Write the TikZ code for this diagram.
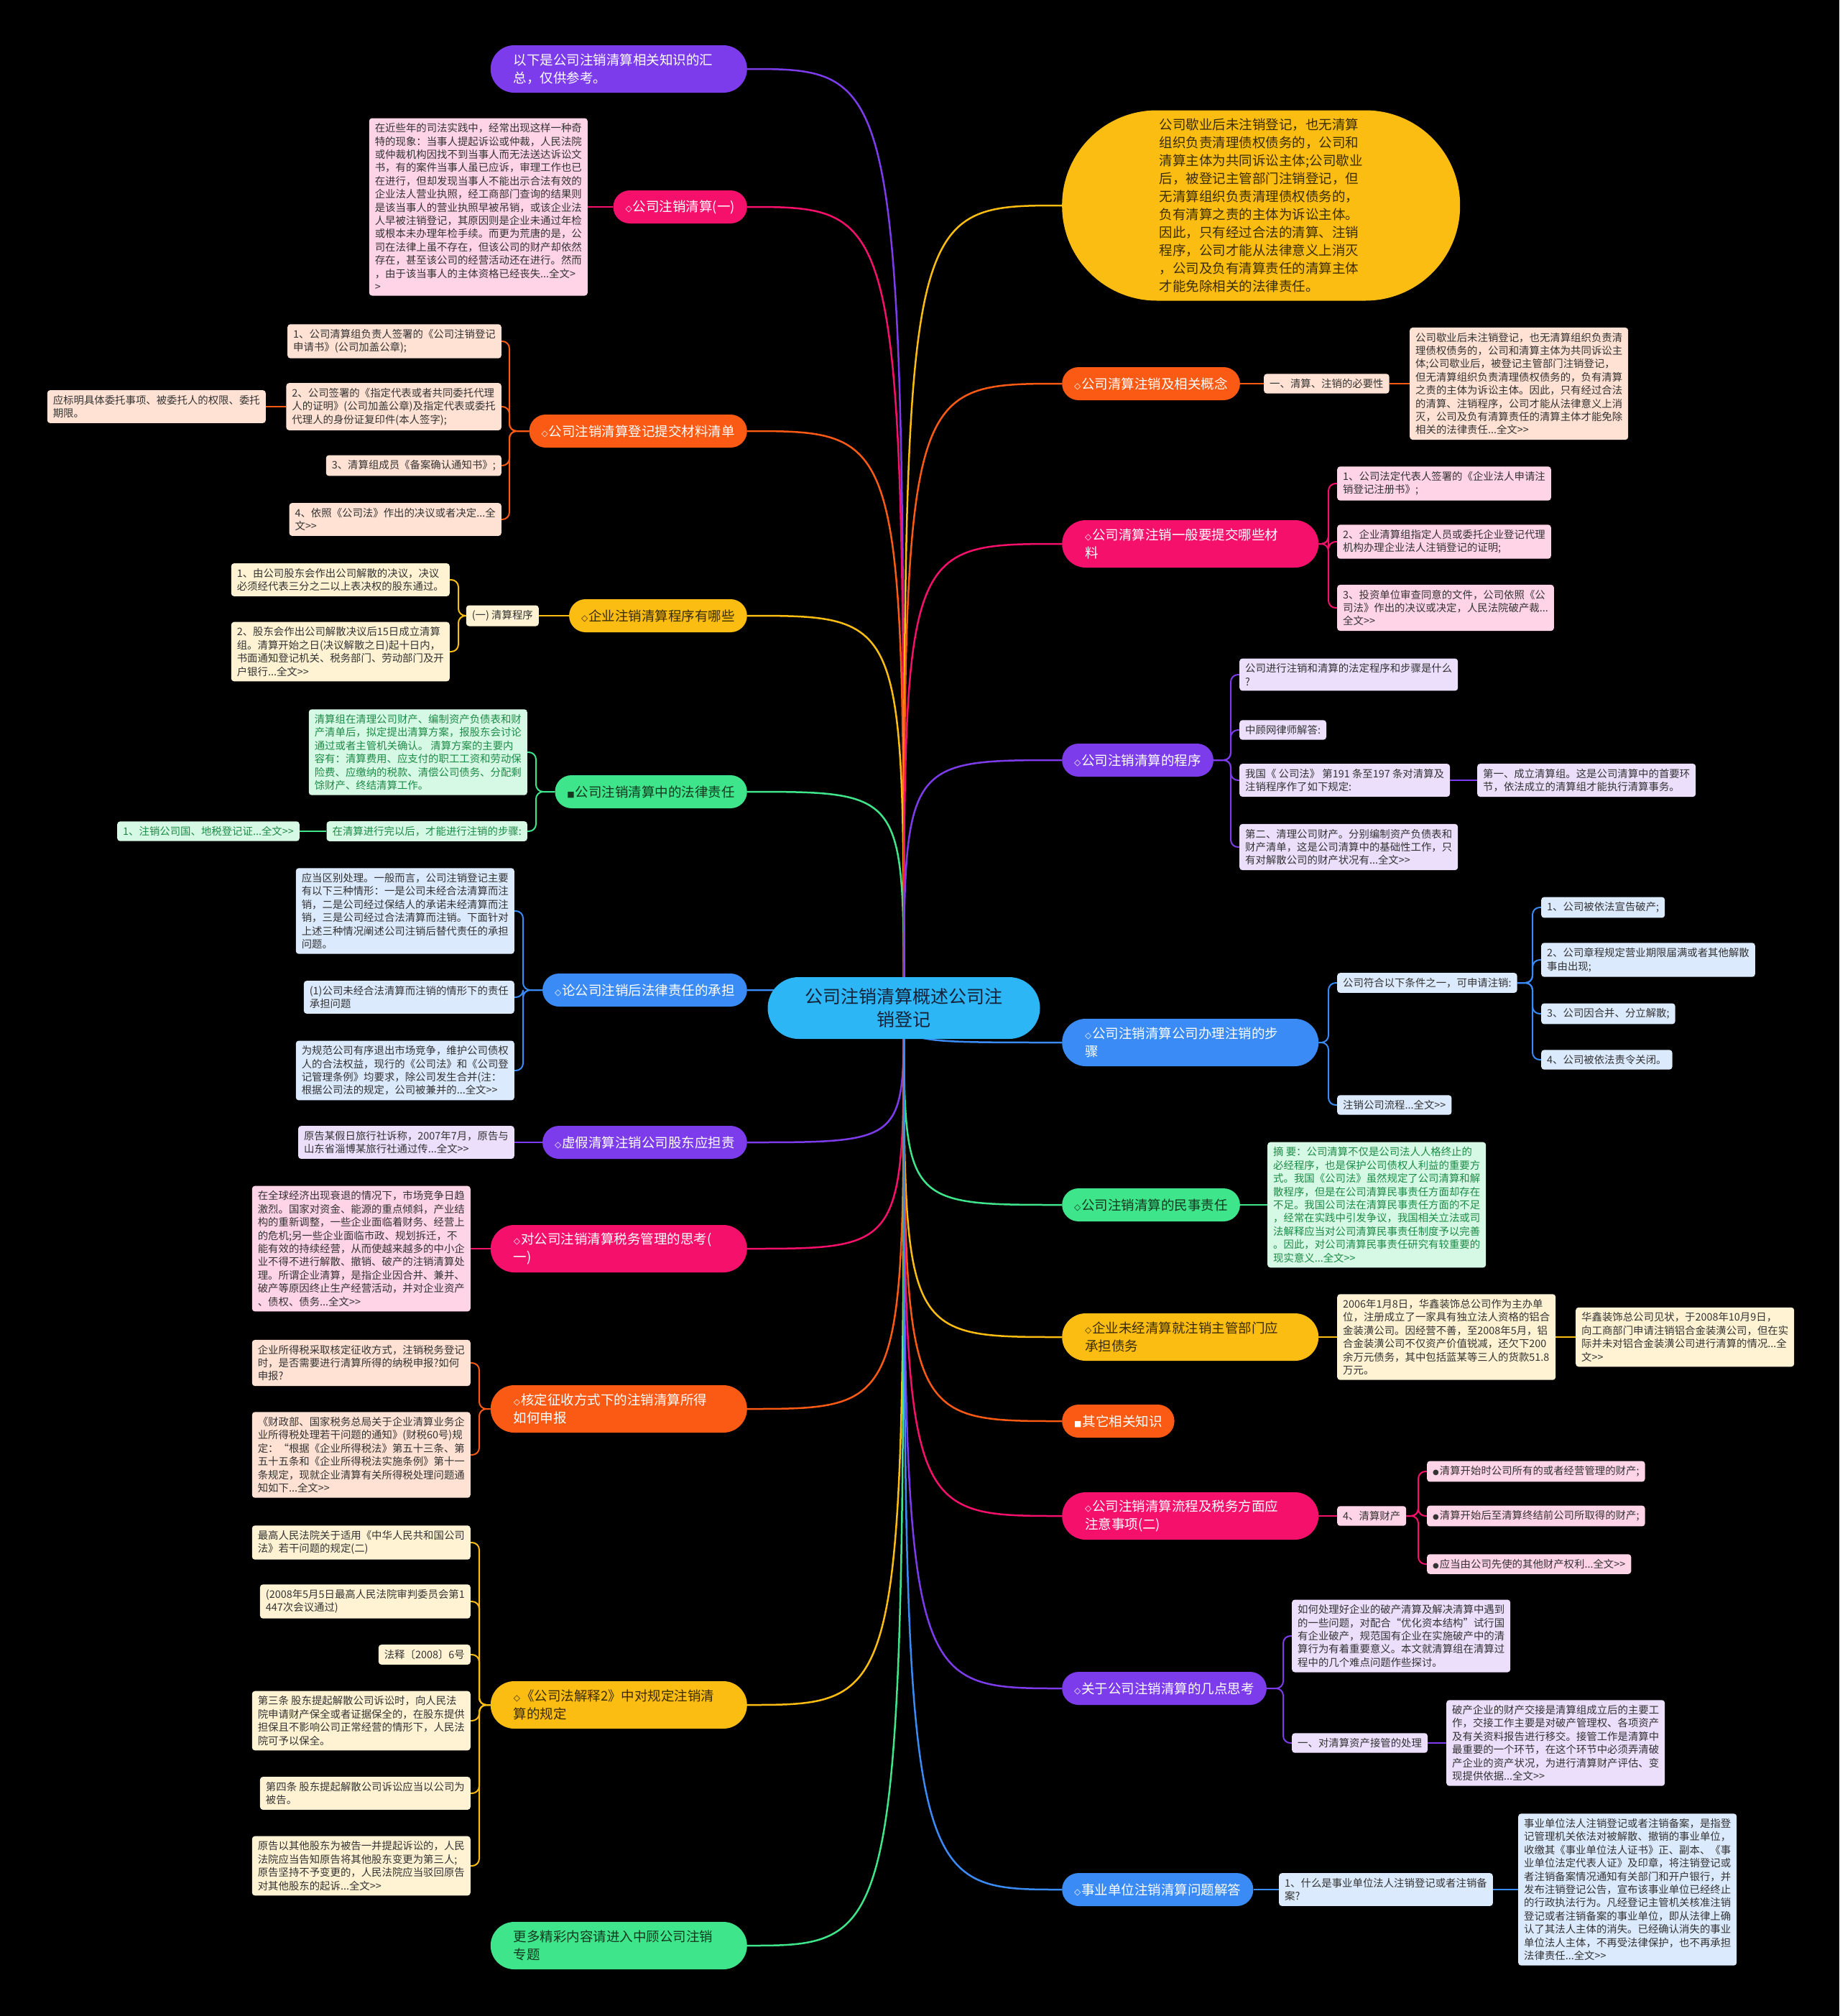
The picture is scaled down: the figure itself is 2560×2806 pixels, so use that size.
\documentclass[tikz,border=0pt]{standalone}
\usepackage{fontspec}
\setmainfont{Noto Sans CJK SC}
\newfontfamily\symf{DejaVu Sans}
\usetikzlibrary{calc}
\pgfdeclarelayer{bg}
\pgfdeclarelayer{edges}
\pgfsetlayers{bg,edges,main}
\definecolor{cpur}{HTML}{7D3CEB}
\definecolor{cmag}{HTML}{F5106C}
\definecolor{corg}{HTML}{FA5A14}
\definecolor{camb}{HTML}{FCBD12}
\definecolor{cgrn}{HTML}{3FE58A}
\definecolor{cblu}{HTML}{3A8BF5}
\definecolor{croot}{HTML}{2CB6F6}
\definecolor{fpur}{HTML}{ECDFFC}
\definecolor{fmag}{HTML}{FFD4E6}
\definecolor{forg}{HTML}{FFE2D3}
\definecolor{famb}{HTML}{FFF3D3}
\definecolor{fgrn}{HTML}{D5F9E4}
\definecolor{fblu}{HTML}{DCEAFD}
\definecolor{tdark}{HTML}{333333}
\definecolor{tgrn}{HTML}{1E8A47}
\definecolor{tamb}{HTML}{3A2C05}
\definecolor{tgd}{HTML}{12391F}
\definecolor{troot}{HTML}{152238}
\newcommand\dia{{\symf\fontsize{12}{12}\selectfont ◇}\kern1pt}
\newcommand\sqr{{\symf\fontsize{11}{11}\selectfont ■}\kern1pt}
\newcommand\bul{{\symf\fontsize{10}{10}\selectfont ●}\kern1pt}
\newcommand\dgt{>\kern0pt>}
\newcommand\myBrL[4]{\path (#4,0) coordinate (tmpS); \draw[e2=#1] (#2.west) -- (#2.west -| tmpS) |- (#3.east);}
\newcommand\myBrR[4]{\path (#4,0) coordinate (tmpS); \draw[e2=#1] (#2.east) -- (#2.east -| tmpS) |- (#3.west);}
\newcommand\myStL[3]{\draw[e2=#1] (#2.west) -- (#3.east);}
\newcommand\myStR[3]{\draw[e2=#1] (#2.east) -- (#3.west);}
\newcommand\myRtL[2]{\draw[e1=#1] (root.center) .. controls (root.center |- #2.east) .. (#2.east);}
\newcommand\myRtR[2]{\draw[e1=#1] (root.center) .. controls (root.center |- #2.west) .. (#2.west);}
\tikzset{
  m1/.style={fill=#1, text=white, rounded corners=23pt, minimum height=46pt, inner xsep=17pt, inner ysep=0pt, font=\fontsize{18.5}{25}\selectfont},
  m2/.style={fill=#1, text=white, rounded corners=33pt, minimum height=66pt, text width=293pt, align=left, inner xsep=32pt, inner ysep=0pt, font=\fontsize{18.5}{25}\selectfont},
  db/.style={fill=#1, text=tdark, rounded corners=4pt, inner xsep=8pt, inner ysep=7pt, align=left, font=\fontsize{14.4}{18.4}\selectfont},
  e1/.style={draw=#1, line width=2.5pt},
  e2/.style={draw=#1, line width=2pt, rounded corners=10pt}
}
\begin{document}
\begin{tikzpicture}[x=1pt,y=-1pt]
\begin{pgfonlayer}{bg}
\fill[black] (0,0) rectangle (2560,2806);
\end{pgfonlayer}
\useasboundingbox (0,0) rectangle (2560,2806);

% root
\node[fill=croot, text=troot, rounded corners=43pt, minimum width=379pt, minimum height=86pt, align=center, font=\fontsize{25}{32}\selectfont] (root) at (1258,1403) {公司注销清算概述公司注\\销登记};

% ---------------- left main nodes
\node[m2=cpur, anchor=east] (L1) at (1040,96) {以下是公司注销清算相关知识的汇\\总，仅供参考。};
\node[m1=cmag, anchor=east] (L2) at (1040,288) {\dia 公司注销清算(一)};
\node[m1=corg, anchor=east] (L3) at (1040,600) {\dia 公司注销清算登记提交材料清单};
\node[m1=camb, text=tamb, anchor=east] (L4) at (1040,857) {\dia 企业注销清算程序有哪些};
\node[m1=cgrn, text=tgd, anchor=east] (L5) at (1040,1102) {\sqr 公司注销清算中的法律责任};
\node[m1=cblu, anchor=east] (L6) at (1040,1378) {\dia 论公司注销后法律责任的承担};
\node[m1=cpur, anchor=east] (L7) at (1040,1590) {\dia 虚假清算注销公司股东应担责};
\node[m2=cmag, anchor=east] (L8) at (1040,1738) {\dia 对公司注销清算税务管理的思考(\\一)};
\node[m2=corg, anchor=east] (L9) at (1040,1961) {\dia 核定征收方式下的注销清算所得\\如何申报};
\node[m2=camb, text=tamb, anchor=east] (L10) at (1040,2373) {\dia 《公司法解释2》中对规定注销清\\算的规定};
\node[m2=cgrn, text=tgd, anchor=east] (L11) at (1040,2708) {更多精彩内容请进入中顾公司注销\\专题};

% ---------------- right main nodes
\node[fill=camb, text=tamb, rounded corners=132pt, minimum width=554pt, minimum height=265pt, anchor=west, align=left, font=\fontsize{18.5}{25}\selectfont] (R1) at (1478,286) {公司歇业后未注销登记，也无清算\\组织负责清理债权债务的，公司和\\清算主体为共同诉讼主体;公司歇业\\后，被登记主管部门注销登记，但\\无清算组织负责清理债权债务的，\\负有清算之责的主体为诉讼主体。\\因此，只有经过合法的清算、注销\\程序，公司才能从法律意义上消灭\\，公司及负有清算责任的清算主体\\才能免除相关的法律责任。};
\node[m1=corg, anchor=west] (R2) at (1478,534) {\dia 公司清算注销及相关概念};
\node[m2=cmag, anchor=west] (R3) at (1478,757) {\dia 公司清算注销一般要提交哪些材\\料};
\node[m1=cpur, anchor=west] (R4) at (1478,1058) {\dia 公司注销清算的程序};
\node[m2=cblu, anchor=west] (R5) at (1478,1451) {\dia 公司注销清算公司办理注销的步\\骤};
\node[m1=cgrn, text=tgd, anchor=west] (R6) at (1478,1677) {\dia 公司注销清算的民事责任};
\node[m2=camb, text=tamb, anchor=west] (R7) at (1478,1861) {\dia 企业未经清算就注销主管部门应\\承担债务};
\node[m1=corg, anchor=west] (R8) at (1478,1978) {\sqr 其它相关知识};
\node[m2=cmag, anchor=west] (R9) at (1478,2110) {\dia 公司注销清算流程及税务方面应\\注意事项(二)};
\node[m1=cpur, anchor=west] (R10) at (1478,2350) {\dia 关于公司注销清算的几点思考};
\node[m1=cblu, anchor=west] (R11) at (1478,2630) {\dia 事业单位注销清算问题解答};

% ---------------- left details
\node[db=fmag, anchor=east] (L2c) at (818,288) {在近些年的司法实践中，经常出现这样一种奇\\特的现象：当事人提起诉讼或仲裁，人民法院\\或仲裁机构因找不到当事人而无法送达诉讼文\\书，有的案件当事人虽已应诉，审理工作也已\\在进行，但却发现当事人不能出示合法有效的\\企业法人营业执照，经工商部门查询的结果则\\是该当事人的营业执照早被吊销，或该企业法\\人早被注销登记，其原因则是企业未通过年检\\或根本未办理年检手续。而更为荒唐的是，公\\司在法律上虽不存在，但该公司的财产却依然\\存在，甚至该公司的经营活动还在进行。然而\\，由于该当事人的主体资格已经丧失...全文>\\>};

\node[db=forg, anchor=east] (L3c1) at (698,475) {1、公司清算组负责人签署的《公司注销登记\\申请书》(公司加盖公章);};
\node[db=forg, anchor=east] (L3c2) at (698,566) {2、公司签署的《指定代表或者共同委托代理\\人的证明》(公司加盖公章)及指定代表或委托\\代理人的身份证复印件(本人签字);};
\node[db=forg, anchor=east] (L3c2a) at (370,566) {应标明具体委托事项、被委托人的权限、委托\\期限。};
\node[db=forg, anchor=east] (L3c3) at (698,648) {3、清算组成员《备案确认通知书》;};
\node[db=forg, anchor=east] (L3c4) at (698,723) {4、依照《公司法》作出的决议或者决定...全\\文\dgt};

\node[db=famb, anchor=east] (L4a) at (750,857) {(一) 清算程序};
\node[db=famb, anchor=east] (L4a1) at (626,807) {1、由公司股东会作出公司解散的决议，决议\\必须经代表三分之二以上表决权的股东通过。};
\node[db=famb, anchor=east] (L4a2) at (626,907) {2、股东会作出公司解散决议后15日成立清算\\组。清算开始之日(决议解散之日)起十日内，\\书面通知登记机关、税务部门、劳动部门及开\\户银行...全文\dgt};

\node[db=fgrn, text=tgrn, anchor=east] (L5c1) at (734,1047) {清算组在清理公司财产、编制资产负债表和财\\产清单后，拟定提出清算方案，报股东会讨论\\通过或者主管机关确认。 清算方案的主要内\\容有：清算费用、应支付的职工工资和劳动保\\险费、应缴纳的税款、清偿公司债务、分配剩\\馀财产、终结清算工作。};
\node[db=fgrn, text=tgrn, anchor=east] (L5c2) at (734,1157) {在清算进行完以后，才能进行注销的步骤:};
\node[db=fgrn, text=tgrn, anchor=east] (L5c2a) at (417,1157) {1、注销公司国、地税登记证...全文\dgt};

\node[db=fblu, anchor=east] (L6c1) at (716,1268) {应当区别处理。一般而言，公司注销登记主要\\有以下三种情形：一是公司未经合法清算而注\\销，二是公司经过保结人的承诺未经清算而注\\销，三是公司经过合法清算而注销。下面针对\\上述三种情况阐述公司注销后替代责任的承担\\问题。};
\node[db=fblu, anchor=east] (L6c2) at (716,1388) {(1)公司未经合法清算而注销的情形下的责任\\承担问题};
\node[db=fblu, anchor=east] (L6c3) at (716,1490) {为规范公司有序退出市场竞争，维护公司债权\\人的合法权益，现行的《公司法》和《公司登\\记管理条例》均要求，除公司发生合并(注：\\根据公司法的规定，公司被兼并的...全文\dgt};

\node[db=fpur, anchor=east] (L7c) at (716,1590) {原告某假日旅行社诉称，2007年7月，原告与\\山东省淄博某旅行社通过传...全文\dgt};

\node[db=fmag, anchor=east] (L8c) at (655,1738) {在全球经济出现衰退的情况下，市场竞争日趋\\激烈。国家对资金、能源的重点倾斜，产业结\\构的重新调整，一些企业面临着财务、经营上\\的危机;另一些企业面临市政、规划拆迁，不\\能有效的持续经营，从而使越来越多的中小企\\业不得不进行解散、撤销、破产的注销清算处\\理。所谓企业清算，是指企业因合并、兼并、\\破产等原因终止生产经营活动，并对企业资产\\、债权、债务...全文\dgt};

\node[db=forg, anchor=east] (L9c1) at (655,1897) {企业所得税采取核定征收方式，注销税务登记\\时，是否需要进行清算所得的纳税申报?如何\\申报?};
\node[db=forg, anchor=east] (L9c2) at (655,2025) {《财政部、国家税务总局关于企业清算业务企\\业所得税处理若干问题的通知》(财税60号)规\\定：“根据《企业所得税法》第五十三条、第\\五十五条和《企业所得税法实施条例》第十一\\条规定，现就企业清算有关所得税处理问题通\\知如下...全文\dgt};

\node[db=famb, anchor=east] (L10c1) at (655,2147) {最高人民法院关于适用《中华人民共和国公司\\法》若干问题的规定(二)};
\node[db=famb, anchor=east] (L10c2) at (655,2229) {(2008年5月5日最高人民法院审判委员会第1\\447次会议通过)};
\node[db=famb, anchor=east] (L10c3) at (655,2303) {法释〔2008〕6号};
\node[db=famb, anchor=east] (L10c4) at (655,2395) {第三条 股东提起解散公司诉讼时，向人民法\\院申请财产保全或者证据保全的，在股东提供\\担保且不影响公司正常经营的情形下，人民法\\院可予以保全。};
\node[db=famb, anchor=east] (L10c5) at (655,2496) {第四条 股东提起解散公司诉讼应当以公司为\\被告。};
\node[db=famb, anchor=east] (L10c6) at (655,2597) {原告以其他股东为被告一并提起诉讼的，人民\\法院应当告知原告将其他股东变更为第三人;\\原告坚持不予变更的，人民法院应当驳回原告\\对其他股东的起诉...全文\dgt};

% ---------------- right details
\node[db=forg, anchor=west] (R2a) at (1759,534) {一、清算、注销的必要性};
\node[db=forg, anchor=west] (R2b) at (1962,534) {公司歇业后未注销登记，也无清算组织负责清\\理债权债务的，公司和清算主体为共同诉讼主\\体;公司歇业后，被登记主管部门注销登记，\\但无清算组织负责清理债权债务的，负有清算\\之责的主体为诉讼主体。因此，只有经过合法\\的清算、注销程序，公司才能从法律意义上消\\灭，公司及负有清算责任的清算主体才能免除\\相关的法律责任...全文\dgt};

\node[db=fmag, anchor=west] (R3c1) at (1861,673) {1、公司法定代表人签署的《企业法人申请注\\销登记注册书》;};
\node[db=fmag, anchor=west] (R3c2) at (1861,754) {2、企业清算组指定人员或委托企业登记代理\\机构办理企业法人注销登记的证明;};
\node[db=fmag, anchor=west] (R3c3) at (1861,846) {3、投资单位审查同意的文件，公司依照《公\\司法》作出的决议或决定，人民法院破产裁...\\全文\dgt};

\node[db=fpur, anchor=west] (R4c1) at (1725,939) {公司进行注销和清算的法定程序和步骤是什么\\?};
\node[db=fpur, anchor=west] (R4c2) at (1725,1016) {中顾网律师解答:};
\node[db=fpur, anchor=west] (R4c3) at (1725,1086) {我国《 公司法》 第191 条至197 条对清算及\\注销程序作了如下规定:};
\node[db=fpur, anchor=west] (R4c3a) at (2056,1086) {第一、成立清算组。这是公司清算中的首要环\\节，依法成立的清算组才能执行清算事务。};
\node[db=fpur, anchor=west] (R4c4) at (1725,1179) {第二、清理公司财产。分别编制资产负债表和\\财产清单，这是公司清算中的基础性工作，只\\有对解散公司的财产状况有...全文\dgt};

\node[db=fblu, anchor=west] (R5c1) at (1861,1368) {公司符合以下条件之一，可申请注销:};
\node[db=fblu, anchor=west] (R5c1a) at (2145,1263) {1、公司被依法宣告破产;};
\node[db=fblu, anchor=west] (R5c1b) at (2145,1336) {2、公司章程规定营业期限届满或者其他解散\\事由出现;};
\node[db=fblu, anchor=west] (R5c1c) at (2145,1411) {3、公司因合并、分立解散;};
\node[db=fblu, anchor=west] (R5c1d) at (2145,1475) {4、公司被依法责令关闭。};
\node[db=fblu, anchor=west] (R5c2) at (1861,1538) {注销公司流程...全文\dgt};

\node[db=fgrn, text=tgrn, anchor=west] (R6c) at (1764,1677) {摘 要：公司清算不仅是公司法人人格终止的\\必经程序，也是保护公司债权人利益的重要方\\式。我国《公司法》虽然规定了公司清算和解\\散程序，但是在公司清算民事责任方面却存在\\不足。我国公司法在清算民事责任方面的不足\\，经常在实践中引发争议，我国相关立法或司\\法解释应当对公司清算民事责任制度予以完善\\。因此，对公司清算民事责任研究有较重要的\\现实意义...全文\dgt};

\node[db=famb, anchor=west] (R7c) at (1861,1861) {2006年1月8日，华鑫装饰总公司作为主办单\\位，注册成立了一家具有独立法人资格的铝合\\金装潢公司。因经营不善，至2008年5月，铝\\合金装潢公司不仅资产价值锐减，还欠下200\\余万元债务，其中包括蓝某等三人的货款51.8\\万元。};
\node[db=famb, anchor=west] (R7c1) at (2193,1861) {华鑫装饰总公司见状，于2008年10月9日，\\向工商部门申请注销铝合金装潢公司，但在实\\际并未对铝合金装潢公司进行清算的情况...全\\文\dgt};

\node[db=fmag, anchor=west] (R9a) at (1861,2110) {4、清算财产};
\node[db=fmag, anchor=west] (R9a1) at (1986,2048) {\bul 清算开始时公司所有的或者经营管理的财产;};
\node[db=fmag, anchor=west] (R9a2) at (1986,2110) {\bul 清算开始后至清算终结前公司所取得的财产;};
\node[db=fmag, anchor=west] (R9a3) at (1986,2177) {\bul 应当由公司先使的其他财产权利...全文\dgt};

\node[db=fpur, anchor=west] (R10c1) at (1798,2277) {如何处理好企业的破产清算及解决清算中遇到\\的一些问题，对配合“优化资本结构”试行国\\有企业破产，规范国有企业在实施破产中的清\\算行为有着重要意义。本文就清算组在清算过\\程中的几个难点问题作些探讨。};
\node[db=fpur, anchor=west] (R10c2) at (1798,2426) {一、对清算资产接管的处理};
\node[db=fpur, anchor=west] (R10c2a) at (2013,2426) {破产企业的财产交接是清算组成立后的主要工\\作，交接工作主要是对破产管理权、各项资产\\及有关资料报告进行移交。接管工作是清算中\\最重要的一个环节，在这个环节中必须弄清破\\产企业的资产状况，为进行清算财产评估、变\\现提供依据...全文\dgt};

\node[db=fblu, anchor=west] (R11a) at (1780,2630) {1、什么是事业单位法人注销登记或者注销备\\案?};
\node[db=fblu, anchor=west] (R11a1) at (2113,2630) {事业单位法人注销登记或者注销备案，是指登\\记管理机关依法对被解散、撤销的事业单位，\\收缴其《事业单位法人证书》正、副本、《事\\业单位法定代表人证》及印章，将注销登记或\\者注销备案情况通知有关部门和开户银行，并\\发布注销登记公告，宣布该事业单位已经终止\\的行政执法行为。凡经登记主管机关核准注销\\登记或者注销备案的事业单位，即从法律上确\\认了其法人主体的消失。已经确认消失的事业\\单位法人主体，不再受法律保护，也不再承担\\法律责任...全文\dgt};

% ---------------- edges
\begin{pgfonlayer}{edges}
\myRtL{cpur}{L1}
\myRtL{cmag}{L2}
\myRtL{corg}{L3}
\myRtL{camb}{L4}
\myRtL{cgrn}{L5}
\myRtL{cblu}{L6}
\myRtL{cpur}{L7}
\myRtL{cmag}{L8}
\myRtL{corg}{L9}
\myRtL{camb}{L10}
\myRtL{cgrn}{L11}
\myRtR{camb}{R1}
\myRtR{corg}{R2}
\myRtR{cmag}{R3}
\myRtR{cpur}{R4}
\myRtR{cblu}{R5}
\myRtR{cgrn}{R6}
\myRtR{camb}{R7}
\myRtR{corg}{R8}
\myRtR{cmag}{R9}
\myRtR{cpur}{R10}
\myRtR{cblu}{R11}

\myStL{cmag}{L2}{L2c}
\myBrL{corg}{L3}{L3c1}{709}
\myBrL{corg}{L3}{L3c2}{709}
\myBrL{corg}{L3}{L3c3}{709}
\myBrL{corg}{L3}{L3c4}{709}
\myStL{corg}{L3c2}{L3c2a}
\myStL{camb}{L4}{L4a}
\myBrL{camb}{L4a}{L4a1}{638}
\myBrL{camb}{L4a}{L4a2}{638}
\myBrL{cgrn}{L5}{L5c1}{746}
\myBrL{cgrn}{L5}{L5c2}{746}
\myStL{cgrn}{L5c2}{L5c2a}
\myBrL{cblu}{L6}{L6c1}{728}
\myBrL{cblu}{L6}{L6c2}{728}
\myBrL{cblu}{L6}{L6c3}{728}
\myStL{cpur}{L7}{L7c}
\myStL{cmag}{L8}{L8c}
\myBrL{corg}{L9}{L9c1}{667}
\myBrL{corg}{L9}{L9c2}{667}
\myBrL{camb}{L10}{L10c1}{667}
\myBrL{camb}{L10}{L10c2}{667}
\myBrL{camb}{L10}{L10c3}{667}
\myBrL{camb}{L10}{L10c4}{667}
\myBrL{camb}{L10}{L10c5}{667}
\myBrL{camb}{L10}{L10c6}{667}

\myStR{corg}{R2}{R2a}
\myStR{corg}{R2a}{R2b}
\myBrR{cmag}{R3}{R3c1}{1849}
\myBrR{cmag}{R3}{R3c2}{1849}
\myBrR{cmag}{R3}{R3c3}{1849}
\myBrR{cpur}{R4}{R4c1}{1713}
\myBrR{cpur}{R4}{R4c2}{1713}
\myBrR{cpur}{R4}{R4c3}{1713}
\myBrR{cpur}{R4}{R4c4}{1713}
\myStR{cpur}{R4c3}{R4c3a}
\myBrR{cblu}{R5}{R5c1}{1849}
\myBrR{cblu}{R5}{R5c2}{1849}
\myBrR{cblu}{R5c1}{R5c1a}{2133}
\myBrR{cblu}{R5c1}{R5c1b}{2133}
\myBrR{cblu}{R5c1}{R5c1c}{2133}
\myBrR{cblu}{R5c1}{R5c1d}{2133}
\myStR{cgrn}{R6}{R6c}
\myStR{camb}{R7}{R7c}
\myStR{camb}{R7c}{R7c1}
\myStR{cmag}{R9}{R9a}
\myBrR{cmag}{R9a}{R9a1}{1974}
\myBrR{cmag}{R9a}{R9a2}{1974}
\myBrR{cmag}{R9a}{R9a3}{1974}
\myBrR{cpur}{R10}{R10c1}{1786}
\myBrR{cpur}{R10}{R10c2}{1786}
\myStR{cpur}{R10c2}{R10c2a}
\myStR{cblu}{R11}{R11a}
\myStR{cblu}{R11a}{R11a1}
\end{pgfonlayer}
\end{tikzpicture}
\end{document}
